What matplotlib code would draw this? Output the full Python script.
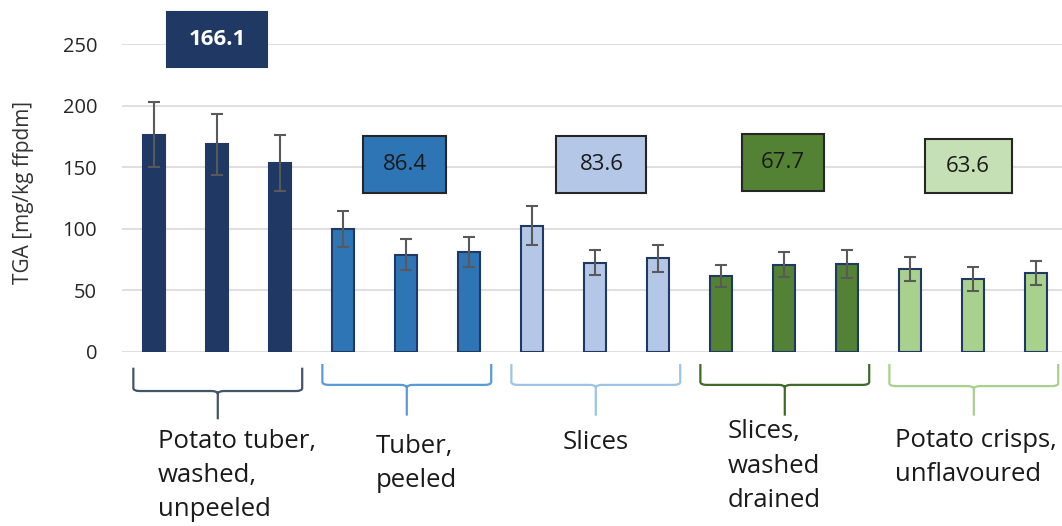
import numpy as np
import matplotlib.pyplot as plt
from matplotlib.path import Path
from matplotlib.patches import PathPatch, Rectangle

# TGA per sample, three replicates per processing step
groups = ["Potato tuber,\nwashed,\nunpeeled", "Tuber,\npeeled", "Slices",
          "Slices,\nwashed\ndrained", "Potato crisps,\nunflavoured"]
tga_tuber = [176.5, 168.5, 153.3]
tga_peeled = [99.5, 79.0, 80.7]
tga_slices = [102.5, 72.5, 75.8]
tga_washed = [61.2, 70.9, 71.0]
tga_crisps = [67.3, 59.3, 64.2]
err_tuber = [26.5, 25.0, 23.0]
err_peeled = [14.6, 12.4, 12.2]
err_slices = [16.0, 10.3, 11.2]
err_washed = [9.0, 10.5, 11.3]
err_crisps = [10.0, 9.6, 9.6]
yticks = [0, 50, 100, 150, 200, 250]

values = [tga_tuber, tga_peeled, tga_slices, tga_washed, tga_crisps]
errors = [err_tuber, err_peeled, err_slices, err_washed, err_crisps]

bar_colors = ["#203864", "#2e75b6", "#b4c7e7", "#548235", "#a9d18e"]
box_colors = ["#203864", "#2e75b6", "#b4c7e7", "#548235", "#c5e0b4"]
brace_colors = ["#44546a", "#5b9bd5", "#9dc3e6", "#3f6a28", "#a9d18e"]

plt.rcParams['font.family'] = ['Open Sans', 'DejaVu Sans']

fig = plt.figure(figsize=(10.62, 5.26), dpi=100)
ax = fig.add_axes([0.1149, 0.3314, 0.8851, 0.5844])

# one px in data units along y
py = 250 / 307.4

for g, (vals, errs) in enumerate(zip(values, errors)):
    x = np.arange(3) + 3 * g
    ax.bar(x, vals, width=0.35, color=bar_colors[g], edgecolor="#1f3864",
           linewidth=1.5, zorder=3)
    ax.errorbar(x, vals, yerr=errs, fmt="none", ecolor="#595959",
                elinewidth=1.5, capsize=4.3, capthick=1.5, zorder=4)

# mean boxes above each group
box_x = [1.0, 3.98, 7.1, 9.98, 12.92]
box_y = [253.7, 152.6, 152.6, 153.9, 151.0]
box_w = [100, 83, 90, 82, 87]
box_h = [55, 57, 57, 57, 54]
for g, vals in enumerate(values):
    mean = np.mean(vals)
    w = box_w[g] / 63.0
    h = box_h[g] * py
    edge = box_colors[g] if g == 0 else "#262626"
    ax.add_patch(Rectangle((box_x[g] - w / 2, box_y[g] - h / 2), w, h,
                           facecolor=box_colors[g], edgecolor=edge,
                           linewidth=1.5, clip_on=False, zorder=5))
    ax.text(box_x[g], box_y[g], f"{mean:.1f}", ha="center", va="center",
            fontsize=16, color="white" if g == 0 else "#1a1a1a",
            fontweight="bold" if g == 0 else "normal", zorder=6)

# braces under groups
def brace(x0, x1, ytop, ymid, ybot, color):
    xc = (x0 + x1) / 2
    r = 0.1
    ry = 3 * py
    verts = [(x0, ytop), (x0, ymid + ry), (x0, ymid), (x0 + r, ymid),
             (xc - r, ymid), (xc, ymid), (xc, ymid - ry), (xc, ybot),
             (xc, ymid - ry), (xc, ymid), (xc + r, ymid),
             (x1 - r, ymid), (x1, ymid), (x1, ymid + ry), (x1, ytop)]
    codes = [Path.MOVETO, Path.LINETO, Path.CURVE3, Path.CURVE3,
             Path.LINETO, Path.CURVE3, Path.CURVE3, Path.LINETO,
             Path.MOVETO, Path.CURVE3, Path.CURVE3,
             Path.LINETO, Path.CURVE3, Path.CURVE3, Path.LINETO]
    ax.add_patch(PathPatch(Path(verts, codes), facecolor="none",
                           edgecolor=color, linewidth=1.6, clip_on=False))

brace_top = [-13, -10, -10, -10, -10]
brace_mid = [-32, -27, -27, -27, -28]
brace_bot = [-55, -52, -52, -52, -52]
for g in range(5):
    brace(3 * g - 0.33, 3 * g + 2.35, brace_top[g], brace_mid[g],
          brace_bot[g], brace_colors[g])

label_x = [0.06, 3.51, 6.48, 9.11, 11.76]
label_y = [-101, -91, -74, -93, -86]
for g, name in enumerate(groups):
    ax.text(label_x[g], label_y[g], name, ha="left", va="center",
            fontsize=18.5, color="#1a1a1a", linespacing=1.48)

ax.set_xlim(-0.51, 14.41)
ax.set_ylim(0, 250)
ax.set_yticks(yticks)
ax.tick_params(axis="y", length=0, pad=18, labelsize=14.5, labelcolor="#262626")
ax.set_xticks([])
ax.grid(axis="y", color="#d9d9d9", linewidth=1.2, zorder=0)
ax.set_axisbelow(True)
for s in ax.spines.values():
    s.set_visible(False)

fig.text(24 / 1062, 1 - 193 / 526, "TGA [mg/kg ffpdm]", rotation=90,
         ha="center", va="center", fontsize=15, color="#333333")

fig.savefig("out.png", dpi=100)
